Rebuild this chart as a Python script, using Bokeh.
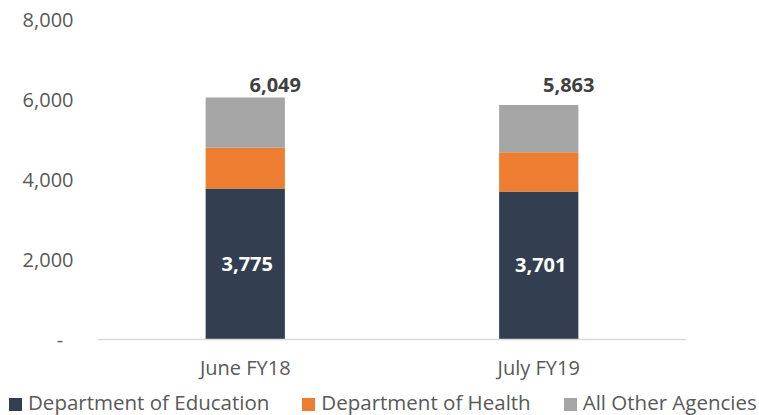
from bokeh.plotting import figure
from bokeh.layouts import column
from bokeh.models import (ColumnDataSource, FactorRange, Range1d, FixedTicker,
                          NumeralTickFormatter, Div)
from bokeh.core.properties import value
from bokeh.embed import file_html
from bokeh.resources import INLINE

# ---- data ----
periods = ["June FY18", "July FY19"]
education = [3775, 3701]
health = [1017, 982]
other = [1257, 1180]
totals = [6049, 5863]
series_names = ["Department of Education", "Department of Health", "All Other Agencies"]
y_ticks = [0, 2000, 4000, 6000, 8000]

colors = ["#333F50", "#ED7D31", "#A5A5A5"]
FONT = "Open Sans"
stack_cols = ["edu", "health", "other"]

src = ColumnDataSource(dict(period=periods, edu=education, health=health, other=other))

p = figure(width=759, height=383, x_range=FactorRange(*periods), y_range=Range1d(0, 8000),
           output_backend="svg", toolbar_location=None,
           min_border_left=98, min_border_right=74, min_border_top=19, min_border_bottom=44)

p.vbar_stack(stack_cols, x="period", width=0.27, color=colors, line_color=None, source=src)

# totals above bars (all placed at the level of the tallest bar)
top_level = max(totals)
tot_src = ColumnDataSource(dict(period=periods, level=[top_level] * len(totals),
                                label=[f"{v:,}" for v in totals]))
p.text(x="period", y="level", text="label", source=tot_src, x_offset=30, y_offset=-13,
       text_align="center", text_baseline="middle", text_font=value(FONT),
       text_font_style="bold", text_font_size="20px", text_color="#404040")

# education values inside bars
edu_src = ColumnDataSource(dict(period=periods, mid=[v / 2 for v in education],
                                label=[f"{v:,}" for v in education]))
p.text(x="period", y="mid", text="label", source=edu_src, x_offset=2,
       text_align="center", text_baseline="middle", text_font=value(FONT),
       text_font_style="bold", text_font_size="20px", text_color="white")

# axes
p.xgrid.visible = False
p.ygrid.visible = False
p.outline_line_color = None

p.yaxis.ticker = FixedTicker(ticks=y_ticks)
p.yaxis.formatter = NumeralTickFormatter(format="0,0")
p.yaxis.major_label_overrides = {0: "-\u00a0\u00a0"}
p.yaxis.axis_line_color = None
p.yaxis.major_tick_line_color = None
p.yaxis.minor_tick_line_color = None
p.yaxis.major_label_standoff = 19
p.yaxis.major_label_text_font = FONT
p.yaxis.major_label_text_font_size = "20px"
p.yaxis.major_label_text_color = "#595959"

p.xaxis.axis_line_color = "#D9D9D9"
p.xaxis.axis_line_width = 1.5
p.xaxis.major_tick_line_color = None
p.xaxis.minor_tick_line_color = None
p.xaxis.major_label_standoff = 8
p.xaxis.major_label_text_font = FONT
p.xaxis.major_label_text_font_size = "20px"
p.xaxis.major_label_text_color = "#595959"

# ---- legend strip below the chart (full width, so nothing is clipped) ----
items_html = ""
for i, (name, col) in enumerate(zip(series_names, colors)):
    gap = 9 if i == 0 else 33
    items_html += (f'<span style="display:inline-block;width:13px;height:13px;'
                   f'background:{col};margin-left:{gap}px;margin-right:6px;'
                   f'vertical-align:-1px;"></span>{name}')
legend_div = Div(
    text=(f'<div style="font-family:\'{FONT}\';font-size:20.5px;color:#595959;'
          f'white-space:nowrap;line-height:38px;height:32px;">{items_html}</div>'),
    width=759, height=32, margin=0)

layout = column(p, legend_div, spacing=0)
open("out.html", "w").write(file_html(layout, INLINE))
